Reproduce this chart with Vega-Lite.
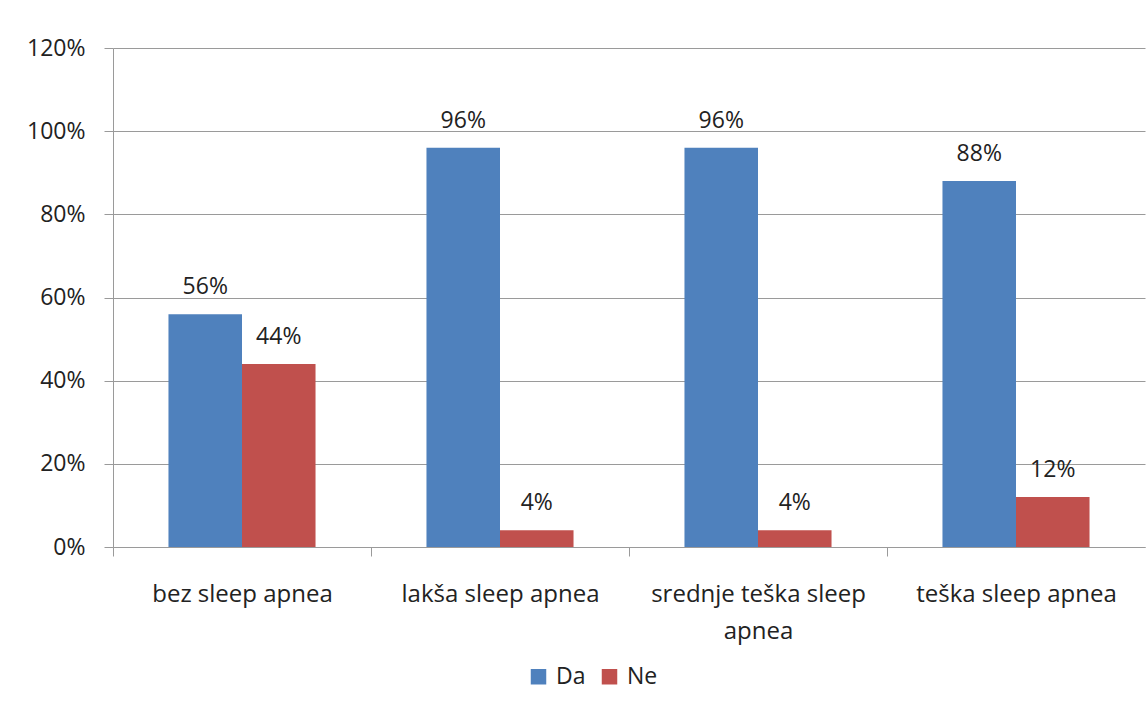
{
  "$schema": "https://vega.github.io/schema/vega-lite/v6.json",
  "width": 1032,
  "height": 499,
  "autosize": {"type": "none"},
  "padding": {"left": 113, "top": 48, "right": 2, "bottom": 161},
  "background": "white",
  "config": {
    "font": "Open Sans",
    "view": {"stroke": null},
    "axis": {"labelFont": "Open Sans", "labelFontSize": 23, "labelColor": "#222222"}
  },
  "data": {
    "values": [
      {"kategorija": "bez sleep apnea", "odgovor": "Da", "vrijednost": 0.56},
      {"kategorija": "bez sleep apnea", "odgovor": "Ne", "vrijednost": 0.44},
      {"kategorija": "lakša sleep apnea", "odgovor": "Da", "vrijednost": 0.96},
      {"kategorija": "lakša sleep apnea", "odgovor": "Ne", "vrijednost": 0.04},
      {"kategorija": "srednje teška sleep apnea", "odgovor": "Da", "vrijednost": 0.96},
      {"kategorija": "srednje teška sleep apnea", "odgovor": "Ne", "vrijednost": 0.04},
      {"kategorija": "teška sleep apnea", "odgovor": "Da", "vrijednost": 0.88},
      {"kategorija": "teška sleep apnea", "odgovor": "Ne", "vrijednost": 0.12}
    ]
  },
  "encoding": {
    "x": {
      "field": "kategorija",
      "type": "nominal",
      "sort": null,
      "title": null,
      "scale": {"paddingInner": 0.43, "paddingOuter": 0.215},
      "axis": {
        "labelAngle": 0,
        "domainColor": "#9a9a9a",
        "tickColor": "#9a9a9a",
        "tickSize": 9,
        "tickOffset": -129,
        "labelOffset": 129,
        "labelPadding": 26,
        "labelLineHeight": 37,
        "labelBaseline": "top",
        "labelAlign": "center",
        "labelLimit": 400,
        "labelFontSize": 24,
        "labelExpr": "datum.label == 'srednje teška sleep apnea' ? ['srednje teška sleep', 'apnea'] : datum.label"
      }
    },
    "xOffset": {"field": "odgovor", "type": "nominal", "scale": {"paddingInner": 0, "paddingOuter": 0}},
    "y": {
      "field": "vrijednost",
      "type": "quantitative",
      "title": null,
      "scale": {"domain": [0, 1.2], "nice": false},
      "axis": {
        "values": [0, 0.2, 0.4, 0.6, 0.8, 1.0, 1.2],
        "format": ".0%",
        "grid": true,
        "gridColor": "#9a9a9a",
        "domainColor": "#9a9a9a",
        "tickColor": "#9a9a9a",
        "tickSize": 9,
        "labelPadding": 19
      }
    }
  },
  "layer": [
    {
      "mark": {"type": "bar"},
      "encoding": {
        "color": {
          "field": "odgovor",
          "type": "nominal",
          "title": null,
          "scale": {"domain": ["Da", "Ne"], "range": ["#4F81BD", "#C0504D"]},
          "legend": {
            "orient": "none",
            "direction": "horizontal",
            "legendX": 414,
            "legendY": 617,
            "symbolType": "square",
            "symbolSize": 240,
            "symbolStrokeWidth": 0,
            "labelFontSize": 23,
            "labelFont": "Open Sans",
            "labelColor": "#222222",
            "columnPadding": 12,
            "labelOffset": 6
          }
        }
      }
    },
    {
      "mark": {"type": "text", "baseline": "bottom", "dy": -15, "fontSize": 23, "font": "Open Sans", "color": "#222222"},
      "encoding": {
        "text": {"field": "vrijednost", "type": "quantitative", "format": ".0%"}
      }
    }
  ]
}
